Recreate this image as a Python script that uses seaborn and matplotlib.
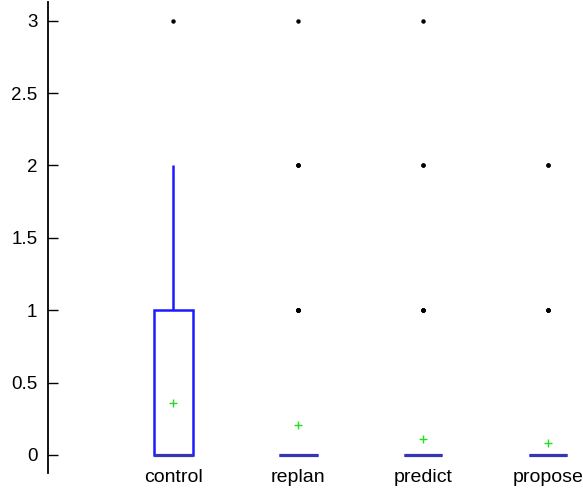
import matplotlib
matplotlib.use('Agg')
import matplotlib.pyplot as plt
import seaborn as sns
import pandas as pd
import numpy as np

# observed counts of each value per method
levels = [0, 1, 2, 3]
methods = ['control', 'replan', 'predict', 'propose']
counts_control = [69, 27, 3, 1]
counts_replan = [84, 12, 3, 1]
counts_predict = [93, 4, 2, 1]
counts_propose = [94, 4, 2, 0]

y_ticks = [0, 0.5, 1, 1.5, 2, 2.5, 3]
y_tick_labels = ['0', '0.5', '1', '1.5', '2', '2.5', '3']

all_counts = [counts_control, counts_replan, counts_predict, counts_propose]
rows = []
for m, cnts in zip(methods, all_counts):
    for v, c in zip(levels, cnts):
        rows += [(m, v)] * c
df = pd.DataFrame(rows, columns=['method', 'value'])

sns.set_style('white')
plt.rcParams['font.family'] = ['Liberation Sans', 'DejaVu Sans']

fig = plt.figure(figsize=(5.83, 4.93), dpi=100)
ax = fig.add_axes([0.083, 0.04, 0.917, 0.956])

box_blue = '#1a1aff'
sns.boxplot(data=df, x='method', y='value', order=methods, ax=ax,
            width=0.31, whis=1.5, showcaps=False, showmeans=True,
            boxprops=dict(facecolor='none', edgecolor=box_blue, linewidth=1.8),
            whiskerprops=dict(color=box_blue, linewidth=1.8),
            medianprops=dict(color='#3535b5', linewidth=2.3),
            meanprops=dict(marker='+', markeredgecolor='#22dd22', markersize=6,
                           markeredgewidth=1.0),
            flierprops=dict(marker='o', markerfacecolor='black', markeredgecolor='black',
                            markersize=2.2))

ax.set_xlim(-1, 3.28)
ax.set_ylim(-0.127, 3.13)
ax.set_yticks(y_ticks)
ax.set_yticklabels(y_tick_labels)
ax.set_xlabel('')
ax.set_ylabel('')

for side in ['top', 'right', 'bottom']:
    ax.spines[side].set_visible(False)
ax.spines['left'].set_color('black')
ax.spines['left'].set_linewidth(1.3)

ax.tick_params(axis='y', direction='in', length=7, width=1.0, colors='black',
               labelsize=13.5, pad=8, left=True)
ax.tick_params(axis='x', length=0, labelsize=14, pad=-3, colors='black')

plt.savefig('out.png', dpi=100)
